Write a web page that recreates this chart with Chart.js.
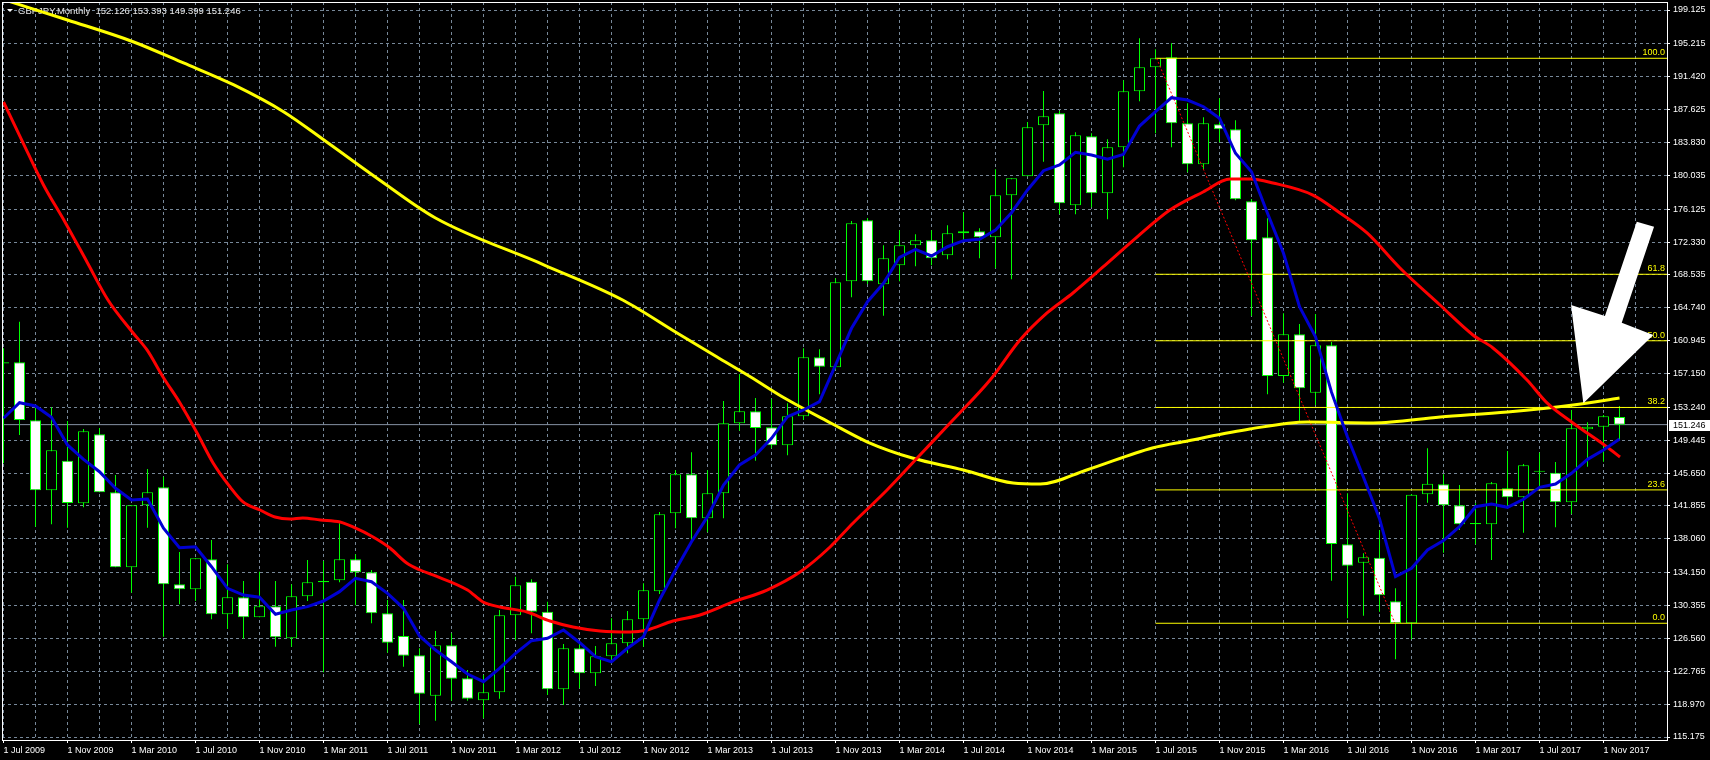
<!DOCTYPE html>
<html><head><meta charset="utf-8">
<script src="https://cdn.jsdelivr.net/npm/chart.js@4.4.1/dist/chart.umd.min.js"></script>
<style>html,body{margin:0;padding:0;background:#000;overflow:hidden}canvas{display:block}</style>
</head><body>
<canvas id="c" width="1710" height="760"></canvas>
<script>
// ---------- DATA (GBPJPY monthly, Jul 2009 .. Dec 2017) ----------
const symbolTitle = 'GBPJPY,Monthly  152.126 153.393 149.399 151.246';
const xTickLabels = ['1 Jul 2009','1 Nov 2009','1 Mar 2010','1 Jul 2010','1 Nov 2010','1 Mar 2011','1 Jul 2011','1 Nov 2011','1 Mar 2012','1 Jul 2012','1 Nov 2012','1 Mar 2013','1 Jul 2013','1 Nov 2013','1 Mar 2014','1 Jul 2014','1 Nov 2014','1 Mar 2015','1 Jul 2015','1 Nov 2015','1 Mar 2016','1 Jul 2016','1 Nov 2016','1 Mar 2017','1 Jul 2017','1 Nov 2017'];
const yTickVals = [115.175,118.970,122.765,126.560,130.355,134.150,138.060,141.855,145.650,149.445,153.240,157.150,160.945,164.740,168.535,172.330,176.125,180.035,183.830,187.625,191.420,195.215,199.125];
const yTickLabels = ['115.175','118.970','122.765','126.560','130.355','134.150','138.060','141.855','145.650','149.445','153.240','157.150','160.945','164.740','168.535','172.330','176.125','180.035','183.830','187.625','191.420','195.215','199.125'];

const openP = [
158.31,158.45,151.75,143.66,147.08,142.16,150.13,143.43,134.77,141.93,
144.01,132.81,132.23,135.70,129.35,131.31,129.00,130.27,126.58,131.43,
133.04,133.27,135.70,134.20,129.46,126.84,124.61,119.95,125.77,121.96,
119.42,120.34,129.23,133.11,129.65,120.69,125.42,122.53,124.50,126.00,
128.77,132.00,141.01,145.51,140.43,143.32,151.40,152.79,150.94,148.86,
152.21,159.02,157.87,167.80,174.84,167.45,169.65,171.96,172.53,170.80,
173.34,173.57,172.88,177.73,179.92,185.81,187.20,176.57,184.54,177.96,
183.27,189.74,192.51,193.66,186.04,181.31,185.93,185.35,177.04,172.88,
156.86,161.68,154.93,160.41,137.43,135.30,135.88,130.85,128.31,143.20,
144.36,141.93,139.74,139.74,143.90,142.86,145.93,145.70,142.28,150.71,
151.01,152.126];
const highP = [
160.06,163.13,153.17,153.25,151.67,150.74,150.86,145.43,141.93,146.12,
145.24,136.54,135.81,137.93,135.12,133.19,134.27,133.19,132.81,135.62,
135.50,139.86,136.27,134.46,131.00,131.00,125.42,127.42,127.15,122.92,
122.34,129.84,133.69,133.39,130.80,125.92,125.88,125.69,128.88,129.73,
132.93,141.16,146.00,148.05,145.97,153.98,157.09,154.32,154.24,153.71,
160.06,159.95,168.14,174.76,175.11,171.96,173.69,173.23,173.69,174.26,
175.77,173.92,180.73,179.69,186.19,189.77,187.46,185.00,184.89,184.20,
191.01,195.86,194.59,195.28,188.35,186.74,188.93,186.39,177.30,175.07,
164.10,162.87,164.02,160.79,143.32,136.39,139.08,132.35,143.24,148.51,
145.51,144.28,142.16,144.62,148.20,146.70,148.01,146.93,152.94,151.52,
152.36,153.393];
const lowP = [
146.78,150.05,139.46,139.74,139.35,141.70,143.43,134.77,131.84,139.35,
126.76,130.50,130.88,128.77,127.65,126.53,129.00,125.61,125.61,130.88,
122.65,133.04,130.39,128.31,124.91,123.30,116.68,117.06,119.37,119.37,
117.34,119.60,126.38,127.15,120.03,118.87,120.80,121.07,123.69,124.84,
125.61,131.69,139.28,137.93,138.82,140.43,150.55,147.08,148.51,147.71,
151.78,154.75,157.56,165.95,167.49,163.83,167.80,169.53,169.65,170.34,
172.53,170.45,169.30,168.03,179.92,181.61,175.53,175.53,176.34,174.96,
180.96,188.58,184.89,183.27,180.38,180.73,183.85,177.15,163.79,154.75,
156.09,151.70,153.51,133.23,128.88,129.19,129.65,124.15,126.46,142.23,
136.46,139.08,137.43,135.62,141.85,138.77,144.08,139.39,140.93,146.39,
146.97,149.399];
const closeP = [
158.45,151.78,143.66,148.28,142.20,150.48,143.43,134.77,141.93,143.43,
132.81,132.23,135.81,129.35,131.31,129.00,130.27,126.69,131.43,133.04,
133.19,135.70,134.20,129.46,126.07,124.57,120.18,125.77,121.91,119.60,
120.34,129.23,132.70,129.65,120.69,125.42,122.53,124.50,126.00,128.77,
132.12,140.89,145.51,140.43,143.32,151.40,152.79,150.86,148.86,152.21,
159.02,157.94,167.68,174.50,167.80,170.45,171.96,172.53,170.45,173.34,
173.57,172.88,177.73,179.69,185.58,186.85,176.80,184.66,177.96,183.27,
189.74,192.51,193.55,186.04,181.31,186.04,185.35,177.27,172.53,156.86,
161.68,155.44,160.41,137.46,134.96,135.93,131.54,128.31,143.16,144.43,
141.93,139.74,139.89,144.47,142.86,146.55,145.81,142.28,150.82,151.01,
152.21,151.246];
// fast MA (blue), one value per candle
const blueMA = [
151.98,153.78,153.40,152.09,148.90,147.24,145.81,143.90,142.54,142.66,
139.28,137.04,137.15,134.84,132.35,131.57,131.31,129.35,129.84,130.23,
130.88,131.96,133.50,133.11,131.77,130.04,126.84,125.22,123.87,122.45,
121.56,123.11,124.84,126.30,126.58,127.53,126.09,124.45,123.87,125.42,
126.76,131.00,134.46,137.73,140.62,144.28,146.59,147.74,149.67,152.16,
152.94,153.90,158.13,162.37,165.44,167.57,170.57,171.49,170.72,171.79,
172.49,172.65,173.72,175.72,178.34,180.57,181.23,182.69,182.38,181.89,
182.46,185.73,187.38,189.00,188.73,187.96,186.62,182.58,180.45,175.65,
171.03,164.87,161.40,155.00,149.82,145.17,140.39,133.69,134.66,136.77,
137.85,139.46,141.77,142.08,141.70,142.63,144.01,144.39,145.63,147.24,
148.32,149.59];
// medium MA (red), read at candle positions
const redIdx = [0,1.14,2.5,3.84,5.22,6.53,8.1,8.97,9.97,11.03,12.1,13.1,14.16,14.97,16.03,16.97,17.9,18.7,19.8,21.03,21.84,23.1,24.15,25.2,26.03,26.84,29,29.97,31.03,32.72,34.16,35.59,37.28,39.16,40.22,41.84,43.53,45.59,47.72,49.78,51.66,53.1,55.22,57.28,59.34,61.66,63.53,65.22,66.84,68.72,70.84,72.9,74.97,76.66,77.9,79.34,81.84,83.53,85.22,87.28,89.78,91.84,93.09,95.22,96.47,98.09,100.22,101.03];
const redVal = [188.50,184.11,178.92,174.65,170.03,165.64,161.83,159.87,156.75,153.75,150.28,146.82,144.05,142.32,141.39,140.58,140.35,140.47,140.24,140.00,139.43,138.27,137.00,135.27,134.46,133.89,132.15,130.77,130.19,129.61,128.57,127.88,127.42,127.30,127.53,128.57,129.27,130.77,132.15,134.23,137.12,139.89,143.70,147.74,151.78,156.40,161.02,164.14,166.45,169.45,172.91,176.03,178.11,179.61,179.61,179.15,177.76,175.69,173.38,169.33,165.06,161.60,160.10,156.40,153.75,151.44,148.66,147.51];
// slow MA (yellow)
const yellowIdx = [0,4,8.1,11.25,14.4,17.5,20.2,23.5,27,33.8,38.7,42.1,44.6,46.7,48.7,51.7,54,56.8,60,63.1,64.8,67.7,71.8,74,77.9,81.5,85.6,89.8,94,98.1,101];
const yellowVal = [200.34,197.97,195.46,193.01,190.47,187.38,183.88,179.5,175.11,169.68,165.64,161.83,159.06,156.75,154.44,151.44,149.24,147.39,146.01,144.51,144.39,146.01,148.55,149.36,150.74,151.55,151.44,152.13,152.71,153.51,154.32];
// Fibonacci retracement
const fibStartIdx = 72;
const fibLevels = [193.55,168.61,160.93,153.23,143.71,128.31];
const fibLabels = ['100.0','61.8','50.0','38.2','23.6','0.0'];
const trendIdx = [72.07,86.97];
const trendVal = [193.55,128.31];
// white arrow annotation (data coordinates)
const arrowIdx = [102.08,103.16,101.14,103.11,98.74,97.97,100.09];
const arrowVal = [174.68,174.10,163.02,161.60,153.71,165.06,163.79];
const lastPrice = 151.246;

// ---------- axis extents ----------
const X_MIN = -0.09375, X_MAX = 103.96875;
const Y_MIN = 114.83, Y_MAX = 200.05;

const FONT = '"Liberation Sans", Arial, sans-serif';
const idx = closeP.map((_, i) => i);
const xGrid = [];
for (let i = 0; i <= 102; i += 2) xGrid.push(i);

const line = (pts, color, width, order, extra) => Object.assign({
  type: 'line', data: pts, borderColor: color, borderWidth: width,
  pointRadius: 0, pointHoverRadius: 0, fill: false, tension: 0, order
}, extra || {});

const datasets = [
  line([{x: X_MIN, y: lastPrice}, {x: X_MAX, y: lastPrice}], '#8592a4', 1, 20),
  {
    type: 'bar', order: 19, grouped: false,
    data: idx.map(i => ({x: i, y: [lowP[i], highP[i]]})),
    backgroundColor: '#00ff00', borderWidth: 0, barThickness: 1, inflateAmount: 0
  },
  {
    type: 'bar', order: 18, grouped: false,
    data: idx.map(i => ({x: i, y: [openP[i], closeP[i]]})),
    backgroundColor: idx.map(i => closeP[i] < openP[i] ? '#ffffff' : '#000000'),
    borderColor: '#00ff00', borderWidth: 1, borderSkipped: false,
    barThickness: 11, inflateAmount: 0
  },
  ...fibLevels.map(v => line([{x: fibStartIdx, y: v}, {x: X_MAX, y: v}], '#ffff00', 1, 15)),
  line(trendIdx.map((v, k) => ({x: v, y: trendVal[k]})), '#ff0000', 1, 14, {borderDash: [2, 2]}),
  line(yellowIdx.map((v, k) => ({x: v, y: yellowVal[k]})), '#ffff00', 3, 13, {cubicInterpolationMode: 'monotone'}),
  line(redIdx.map((v, k) => ({x: v, y: redVal[k]})), '#ff0000', 3, 12, {cubicInterpolationMode: 'monotone'}),
  line(idx.map(i => ({x: i, y: blueMA[i]})), '#0000d2', 3, 11)
];

const overlay = {
  id: 'overlay',
  beforeDatasetsDraw(chart) {
    const {ctx} = chart;
    ctx.save();
    ctx.fillStyle = '#ffffff';
    ctx.beginPath(); ctx.moveTo(7, 9); ctx.lineTo(13, 9); ctx.lineTo(10, 12); ctx.closePath(); ctx.fill();
    ctx.font = '9.5px ' + FONT;
    ctx.fillStyle = '#e6e6e6';
    ctx.textAlign = 'left'; ctx.textBaseline = 'alphabetic';
    ctx.fillText(symbolTitle, 18, 14);
    ctx.restore();
  },
  afterDatasetsDraw(chart) {
    const {ctx, chartArea: a, scales: {x, y}} = chart;
    ctx.save();
    ctx.font = '9px ' + FONT;
    ctx.fillStyle = '#ffff00';
    ctx.textAlign = 'right'; ctx.textBaseline = 'alphabetic';
    fibLevels.forEach((v, k) => ctx.fillText(fibLabels[k], a.right - 2, y.getPixelForValue(v) - 3));
    ctx.beginPath(); ctx.rect(a.left, a.top, a.right - a.left, a.bottom - a.top); ctx.clip();
    ctx.beginPath();
    arrowIdx.forEach((ix, k) => {
      const px = x.getPixelForValue(ix), py = y.getPixelForValue(arrowVal[k]);
      if (k) ctx.lineTo(px, py); else ctx.moveTo(px, py);
    });
    ctx.closePath();
    ctx.fillStyle = '#ffffff';
    ctx.fill();
    ctx.restore();
  },
  afterDraw(chart) {
    const {ctx, chartArea: a, scales: {y}} = chart;
    ctx.save();
    ctx.strokeStyle = '#ffffff'; ctx.lineWidth = 1;
    ctx.strokeRect(a.left + 0.5, a.top + 0.5, a.right - a.left, a.bottom - a.top);
    const py = Math.round(y.getPixelForValue(lastPrice));
    ctx.fillStyle = '#ffffff';
    ctx.fillRect(a.right + 2, py - 5, 41, 11);
    ctx.fillStyle = '#000000';
    ctx.font = '9px ' + FONT;
    ctx.textAlign = 'left'; ctx.textBaseline = 'middle';
    ctx.fillText(lastPrice.toFixed(3), a.right + 6, py + 0.5);
    ctx.restore();
  }
};

new Chart(document.getElementById('c'), {
  type: 'bar',
  data: {datasets},
  options: {
    responsive: false, animation: false, devicePixelRatio: 1,
    layout: {padding: {left: 2, top: 2, right: 0, bottom: 0}, autoPadding: false},
    plugins: {legend: {display: false}, tooltip: {enabled: false}, title: {display: false}},
    events: [],
    scales: {
      x: {
        type: 'linear', min: X_MIN, max: X_MAX, offset: false,
        afterBuildTicks: s => { s.ticks = xGrid.map(v => ({value: v})); },
        afterFit: s => { s.height = 20; s.paddingLeft = 0; s.paddingRight = 0; s.paddingTop = 0; s.paddingBottom = 0; },
        grid: {
          offset: false, color: '#778899', lineWidth: 1, drawTicks: true, tickLength: 3,
          tickColor: c => (c.tick && c.tick.value % 4 === 0) ? '#ffffff' : 'rgba(0,0,0,0)'
        },
        border: {display: false, dash: [3, 3]},
        ticks: {
          autoSkip: false, maxRotation: 0, minRotation: 0, align: 'start', padding: 2,
          color: '#ffffff', font: {family: FONT, size: 9},
          callback: v => (v % 4 === 0 && xTickLabels[v / 4]) ? xTickLabels[v / 4] : ''
        }
      },
      y: {
        type: 'linear', position: 'right', min: Y_MIN, max: Y_MAX,
        afterBuildTicks: s => { s.ticks = yTickVals.map(v => ({value: v})); },
        afterFit: s => { s.width = 43; s.paddingLeft = 0; s.paddingRight = 0; s.paddingTop = 0; s.paddingBottom = 0; },
        grid: {color: '#778899', lineWidth: 1, drawTicks: true, tickLength: 3, tickColor: '#ffffff'},
        border: {display: false, dash: [3, 3]},
        ticks: {
          autoSkip: false, padding: 3, color: '#ffffff', font: {family: FONT, size: 9},
          callback: (v, i) => yTickLabels[i]
        }
      }
    }
  },
  plugins: [overlay]
});
</script>
</body></html>
